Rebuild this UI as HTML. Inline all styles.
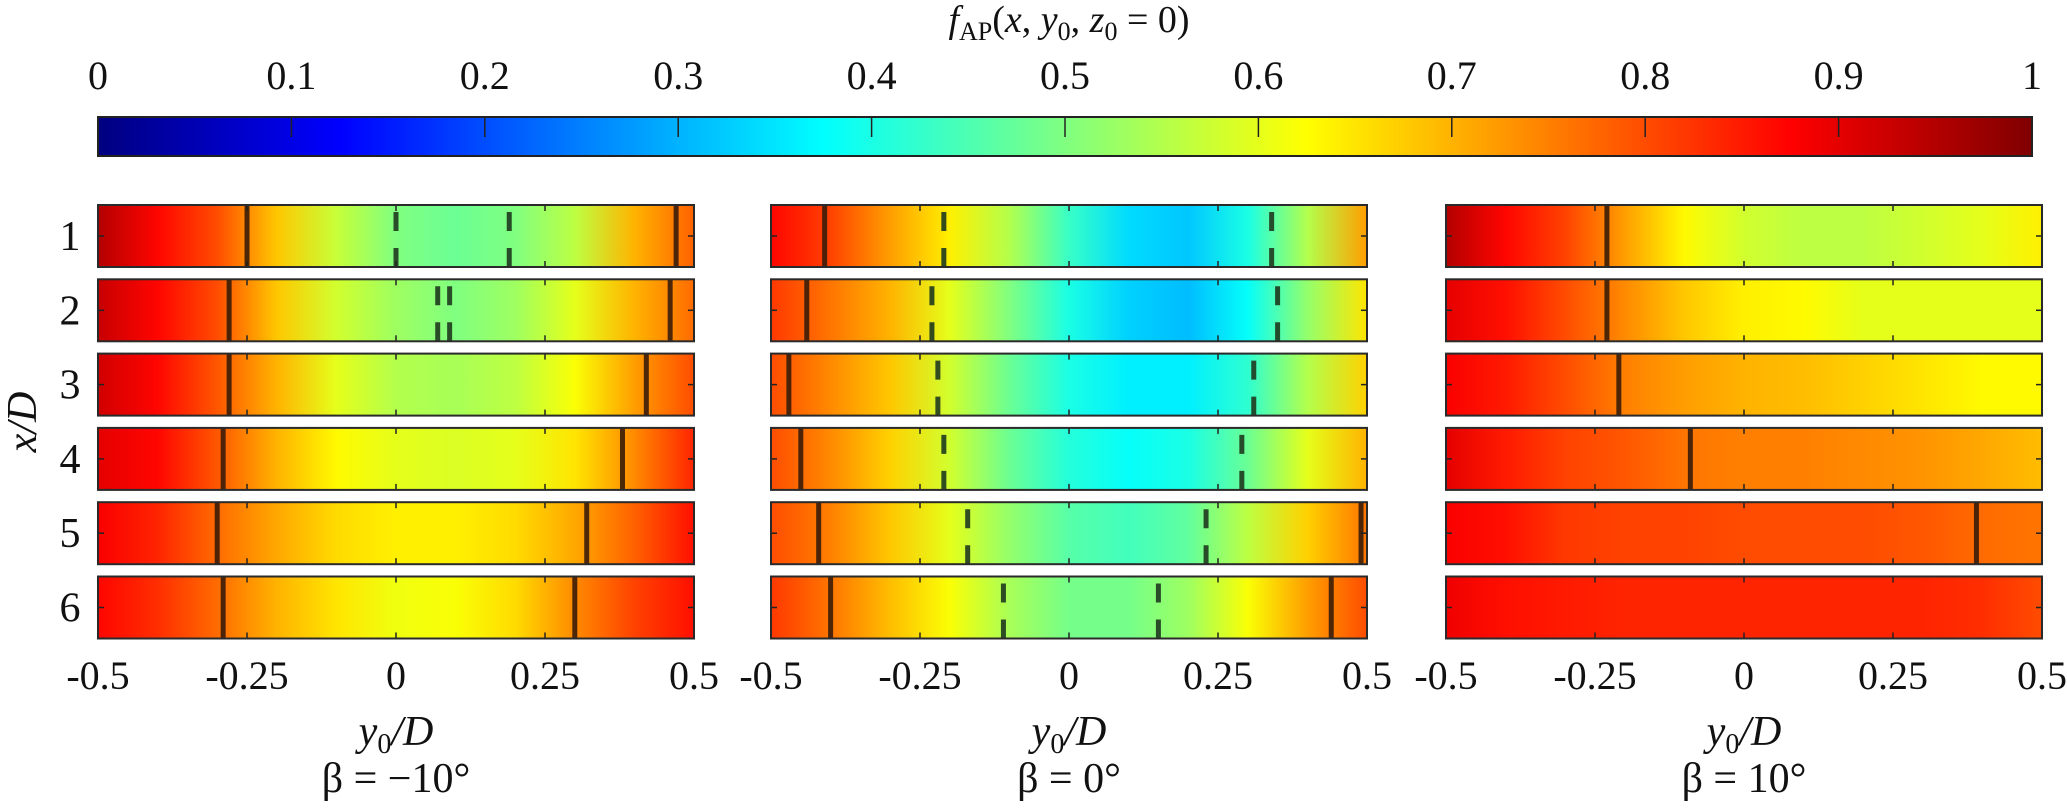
<!DOCTYPE html>
<html><head><meta charset="utf-8">
<style>
html,body{margin:0;padding:0;background:#fff;}
svg{display:block;}
svg text{font-family:"Liberation Serif","DejaVu Serif",serif !important;fill:#111;}
</style></head>
<body>
<svg id="chart" width="2067" height="810" viewBox="0 0 2067 810" xmlns="http://www.w3.org/2000/svg" font-family="Liberation Serif, DejaVu Serif, serif">
<defs id="defs"></defs>
<text x="1069" y="32" font-size="38" text-anchor="middle"><tspan font-style="italic">f</tspan><tspan font-size="26" dy="8">AP</tspan><tspan dy="-8">(</tspan><tspan font-style="italic">x</tspan>, <tspan font-style="italic">y</tspan><tspan font-size="26" dy="8">0</tspan><tspan dy="-8">, </tspan><tspan font-style="italic">z</tspan><tspan font-size="26" dy="8">0</tspan><tspan dy="-8"> = 0)</tspan></text>
<g id="cbar"></g>
<g id="panels"></g>
<text transform="translate(36,422) rotate(-90)" font-size="42" text-anchor="middle" font-style="italic">x/D</text>
</svg>
<script>
const cbarTicks = [0,0.1,0.2,0.3,0.4,0.5,0.6,0.7,0.8,0.9,1];
const cbarTickLabels = ["0","0.1","0.2","0.3","0.4","0.5","0.6","0.7","0.8","0.9","1"];
const rowLabels = ["1","2","3","4","5","6"];
const y0Samples = [-0.5,-0.4,-0.3,-0.2,-0.1,0,0.1,0.2,0.3,0.4,0.5];
const xTicks = [-0.5,-0.25,0,0.25,0.5];
const xTickLabels = ["-0.5","-0.25","0","0.25","0.5"];
const betaLabels = ["\u03B2 = \u221210\u00B0","\u03B2 = 0\u00B0","\u03B2 = 10\u00B0"];
const valsBetaNeg10 = [
 [0.95,0.87,0.80,0.68,0.57,0.50,0.48,0.50,0.56,0.70,0.78],
 [0.93,0.87,0.80,0.68,0.58,0.53,0.50,0.53,0.60,0.70,0.77],
 [0.92,0.87,0.79,0.70,0.60,0.55,0.54,0.56,0.62,0.72,0.80],
 [0.90,0.87,0.79,0.70,0.63,0.60,0.59,0.60,0.65,0.74,0.84],
 [0.88,0.84,0.77,0.71,0.66,0.64,0.64,0.66,0.71,0.78,0.86],
 [0.87,0.83,0.77,0.70,0.65,0.61,0.62,0.66,0.74,0.81,0.86]];
const valsBeta0 = [
 [0.87,0.81,0.72,0.64,0.55,0.43,0.34,0.32,0.40,0.55,0.72],
 [0.82,0.76,0.70,0.60,0.50,0.40,0.33,0.31,0.38,0.52,0.65],
 [0.80,0.74,0.68,0.58,0.48,0.40,0.36,0.36,0.42,0.55,0.67],
 [0.80,0.74,0.67,0.58,0.48,0.41,0.38,0.40,0.48,0.60,0.70],
 [0.80,0.75,0.68,0.60,0.52,0.46,0.44,0.47,0.56,0.67,0.76],
 [0.82,0.76,0.69,0.62,0.54,0.49,0.49,0.53,0.62,0.72,0.80]];
const valsBeta10 = [
 [0.95,0.87,0.81,0.72,0.63,0.58,0.56,0.56,0.58,0.60,0.64],
 [0.90,0.86,0.80,0.74,0.68,0.64,0.63,0.60,0.60,0.60,0.60],
 [0.88,0.85,0.80,0.75,0.72,0.70,0.69,0.67,0.65,0.63,0.63],
 [0.90,0.85,0.81,0.79,0.76,0.75,0.75,0.74,0.73,0.71,0.69],
 [0.88,0.86,0.82,0.81,0.81,0.80,0.80,0.80,0.79,0.77,0.76],
 [0.89,0.86,0.85,0.84,0.84,0.84,0.84,0.84,0.84,0.83,0.80]];
const solidNeg10 = [[-0.25,0.47],[-0.28,0.46],[-0.28,0.42],[-0.29,0.38],[-0.30,0.32],[-0.29,0.30]];
const dashNeg10 = [[0,0.19],[0.07,0.09],[],[],[],[]];
const solid0 = [[-0.41],[-0.44],[-0.47],[-0.45],[-0.42,0.49],[-0.40,0.44]];
const dash0 = [[-0.21,0.34],[-0.23,0.35],[-0.22,0.31],[-0.21,0.29],[-0.17,0.23],[-0.11,0.15]];
const solid10 = [[-0.23],[-0.23],[-0.21],[-0.09],[0.39],[]];
const dash10 = [[],[],[],[],[],[]];

const panelVals=[valsBetaNeg10,valsBeta0,valsBeta10];
const panelSolid=[solidNeg10,solid0,solid10];
const panelDash=[dashNeg10,dash0,dash10];
const panelLeft=[98,771,1446], PW=596, ROW0=205, PITCH=74.3, RH=62;
const NS="http://www.w3.org/2000/svg";
function jet(v){v=Math.max(0,Math.min(1,v));
 const c=t=>Math.max(0,Math.min(1,t));
 const r=c(Math.min(4*v-1.5,-4*v+4.5)),g=c(Math.min(4*v-0.5,-4*v+3.5)),b=c(Math.min(4*v+0.5,-4*v+2.5));
 return `rgb(${Math.round(r*255)},${Math.round(g*255)},${Math.round(b*255)})`;}
function el(tag,attrs,parent){const e=document.createElementNS(NS,tag);for(const k in attrs)e.setAttribute(k,attrs[k]);parent.appendChild(e);return e;}
const defs=document.getElementById('defs');
const CB={x0:98,x1:2032,y0:117,y1:156};
const cbx=v=>CB.x0+v*(CB.x1-CB.x0);
const cg=el('linearGradient',{id:'gcb',x1:0,x2:1,y1:0,y2:0},defs);
for(let i=0;i<=40;i++){el('stop',{offset:i/40,'stop-color':jet(i/40)},cg);}
const cbar=document.getElementById('cbar');
const cr=el('rect',{x:CB.x0,y:CB.y0,width:CB.x1-CB.x0,height:CB.y1-CB.y0,fill:'url(#gcb)',stroke:'#222','stroke-width':2},cbar);


cbarTicks.forEach((t,i)=>{
 if(i>0&&i<cbarTicks.length-1){const l=el('line',{x1:cbx(t),x2:cbx(t),y1:CB.y0,y2:CB.y0+20,stroke:'#222','stroke-width':1.5},cbar);
 
 }
 const tx=el('text',{x:cbx(t),y:89,'font-size':40,'text-anchor':'middle'},cbar);tx.textContent=cbarTickLabels[i];
 
 
});
const panels=document.getElementById('panels');
panelVals.forEach((vals,p)=>{
 const L=panelLeft[p];const xs=v=>L+(v+0.5)*PW;
 const g=el('g',{},panels);
 
 
 vals.forEach((row,r)=>{
  const top=ROW0+r*PITCH;
  const gid='g'+p+'_'+r;
  const lg=el('linearGradient',{id:gid,x1:0,x2:1,y1:0,y2:0},defs);
  row.forEach((v,k)=>el('stop',{offset:(y0Samples[k]+0.5),'stop-color':jet(v)},lg));
  const rc=el('rect',{x:L,y:top,width:PW,height:RH,fill:'url(#'+gid+')'},g);
  
  
  panelSolid[p][r].forEach(s=>{const l=el('line',{x1:xs(s),x2:xs(s),y1:top,y2:top+RH,stroke:'#3a1c08','stroke-opacity':0.9,'stroke-width':5},g);
   
   });
  panelDash[p][r].forEach(s=>{const l=el('line',{x1:xs(s),x2:xs(s),y1:top+RH,y2:top,stroke:'#1e3a1e','stroke-opacity':0.9,'stroke-width':5,'stroke-dasharray':'19 17'},g);
   
   });
  xTicks.forEach((t,i)=>{if(i==0||i==xTicks.length-1)return;
   el('line',{x1:xs(t),x2:xs(t),y1:top,y2:top+6,stroke:'#222','stroke-width':1.5},g);
   el('line',{x1:xs(t),x2:xs(t),y1:top+RH-6,y2:top+RH,stroke:'#222','stroke-width':1.5},g);});
  el('line',{x1:L,x2:L+6,y1:top+RH/2,y2:top+RH/2,stroke:'#222','stroke-width':1.5},g);
  el('line',{x1:L+PW-6,x2:L+PW,y1:top+RH/2,y2:top+RH/2,stroke:'#222','stroke-width':1.5},g);
  el('rect',{x:L,y:top,width:PW,height:RH,fill:'none',stroke:'#2a2a2a','stroke-width':2},g);
  if(p==0){const t=el('text',{x:70,y:top+RH/2+14,'font-size':42,'text-anchor':'middle'},g);t.textContent=rowLabels[r];
   
   }
 });
 xTicks.forEach((t,i)=>{const tx=el('text',{x:xs(t),y:689,'font-size':40,'text-anchor':'middle'},g);tx.textContent=xTickLabels[i];
  
  });
 const xl=el('text',{x:L+PW/2,y:745,'font-size':42,'text-anchor':'middle','font-style':'italic'},g);
 xl.innerHTML='y<tspan font-style="normal" font-size="28" dy="8">0</tspan><tspan dy="-8">/D</tspan>';
 
 
 const bl=el('text',{x:L+PW/2,y:792,'font-size':42,'text-anchor':'middle'},g);
 bl.textContent=betaLabels[p];
 
 
});
</script>
</body></html>
